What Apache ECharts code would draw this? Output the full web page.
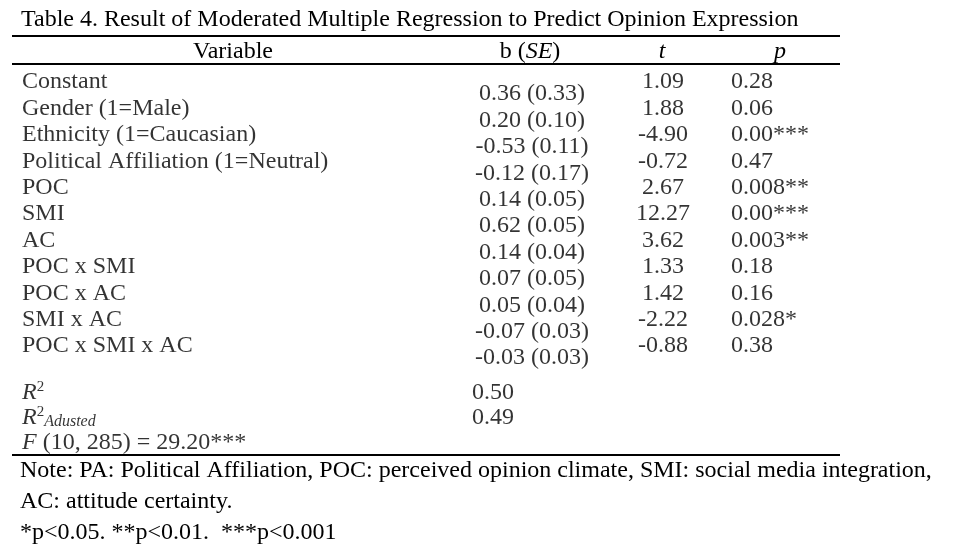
<!DOCTYPE html>
<html>
<head>
<meta charset="utf-8">
<script src="https://cdn.jsdelivr.net/npm/echarts@6/dist/echarts.min.js"></script>
<style>
html,body{margin:0;padding:0;background:#fff;}
#chart{width:960px;height:558px;}
</style>
</head>
<body>
<div id="chart"></div>
<script>
// ---- data ----
var titleText = 'Table 4. Result of Moderated Multiple Regression to Predict Opinion Expression';
var headers = ['Variable', 'b (SE)', 't', 'p'];
var variables = ['Constant', 'Gender (1=Male)', 'Ethnicity (1=Caucasian)', 'Political Affiliation (1=Neutral)',
  'POC', 'SMI', 'AC', 'POC x SMI', 'POC x AC', 'SMI x AC', 'POC x SMI x AC'];
var bValues = [0.36, 0.20, -0.53, -0.12, 0.14, 0.62, 0.14, 0.07, 0.05, -0.07, -0.03];
var seValues = [0.33, 0.10, 0.11, 0.17, 0.05, 0.05, 0.04, 0.05, 0.04, 0.03, 0.03];
var tValues = [1.09, 1.88, -4.90, -0.72, 2.67, 12.27, 3.62, 1.33, 1.42, -2.22, -0.88];
var pValues = ['0.28', '0.06', '0.00', '0.47', '0.008', '0.00', '0.003', '0.18', '0.16', '0.028', '0.38'];
var pStars = ['', '', '***', '', '**', '***', '**', '', '', '*', ''];
var summaryRows = ['R2', 'R2adj', 'F'];
var summaryValues = [0.50, 0.49];
var fStat = {df1: 10, df2: 285, value: 29.20, stars: '***'};
var noteLines = [
  'Note: PA: Political Affiliation, POC: perceived opinion climate, SMI: social media integration,',
  'AC: attitude certainty.',
  '*p<0.05. **p<0.01.  ***p<0.001'
];

// ---- chart ----
var FONT = '"Liberation Serif", "Times New Roman", serif';
var FS = 24;
var chart = echarts.init(document.getElementById('chart'), null, {renderer: 'canvas'});

var bodyTop = 69, bodyHeight = 290.4;
function grid(left, width, top, height) {
  return {left: left, width: width, top: top, height: height, containLabel: false};
}
function xAx(i) {
  return {gridIndex: i, type: 'value', min: 0, max: 1, show: false};
}
function yAx(i, cats) {
  return {gridIndex: i, type: 'category', data: cats, inverse: true, show: false, boundaryGap: true};
}
function textSeries(i, cats, formatter, align, extra) {
  var label = Object.assign({
    show: true, position: 'inside', color: '#000', fontFamily: FONT, fontSize: FS,
    align: align, verticalAlign: 'middle', formatter: formatter
  }, extra || {});
  return {
    type: 'scatter', xAxisIndex: i, yAxisIndex: i, symbolSize: 0, silent: true,
    data: cats.map(function (c) { return [0, c]; }),
    label: label
  };
}
var n2 = function (v) { return v.toFixed(2); };

var option = {
  backgroundColor: '#fff',
  animation: false,
  grid: [
    grid(22, 10, bodyTop, bodyHeight),    // variable names (left aligned)
    grid(532, 10, bodyTop, bodyHeight),   // b (SE) (centred)
    grid(663, 10, bodyTop, bodyHeight),   // t (centred)
    grid(731, 10, bodyTop, bodyHeight),   // p (left aligned)
    grid(22, 10, 380, 75),                // summary labels
    grid(472, 10, 380, 75)                // summary values
  ],
  xAxis: [xAx(0), xAx(1), xAx(2), xAx(3), xAx(4), xAx(5)],
  yAxis: [yAx(0, variables), yAx(1, variables), yAx(2, variables), yAx(3, variables),
          yAx(4, summaryRows), yAx(5, summaryRows)],
  series: [
    textSeries(0, variables, function (p) { return variables[p.dataIndex]; }, 'left'),
    textSeries(1, variables, function (p) {
      return n2(bValues[p.dataIndex]) + ' (' + n2(seValues[p.dataIndex]) + ')';
    }, 'center', {offset: [0, 12]}),
    textSeries(2, variables, function (p) { return n2(tValues[p.dataIndex]); }, 'center'),
    textSeries(3, variables, function (p) { return pValues[p.dataIndex] + pStars[p.dataIndex]; }, 'left'),
    textSeries(4, summaryRows, function (p) {
      if (p.dataIndex === 0) return '{i|R}{s|2}';
      if (p.dataIndex === 1) return '{i|R}{s|2}{sub|Adusted}';
      return '{i|F} (' + fStat.df1 + ', ' + fStat.df2 + ') = ' + fStat.value.toFixed(2) + fStat.stars;
    }, 'left', {
      rich: {
        i: {fontFamily: FONT, fontSize: FS, fontStyle: 'italic', color: '#000'},
        s: {fontFamily: FONT, fontSize: 15, color: '#000', verticalAlign: 'top', padding: [0, 0, 11, 0]},
        sub: {fontFamily: FONT, fontSize: 16, fontStyle: 'italic', color: '#000', padding: [9, 0, 0, 0]}
      }
    }),
    {
      type: 'scatter', xAxisIndex: 5, yAxisIndex: 5, symbolSize: 0, silent: true,
      data: summaryValues.map(function (v, i) { return [0, summaryRows[i]]; }),
      label: {show: true, position: 'inside', align: 'left', color: '#000', fontFamily: FONT, fontSize: FS,
        formatter: function (p) { return n2(summaryValues[p.dataIndex]); }}
    }
  ],
  graphic: [
    {type: 'text', x: 21, y: 20, style: {text: titleText, font: FS + 'px ' + FONT, fill: '#000', textVerticalAlign: 'middle'}},
    {type: 'line', shape: {x1: 12, y1: 36, x2: 840, y2: 36}, style: {stroke: '#000', lineWidth: 2}},
    {type: 'line', shape: {x1: 12, y1: 64, x2: 840, y2: 64}, style: {stroke: '#000', lineWidth: 2}},
    {type: 'line', shape: {x1: 12, y1: 455, x2: 840, y2: 455}, style: {stroke: '#000', lineWidth: 2}},
    {type: 'text', x: 233, y: 52, style: {text: headers[0], font: FS + 'px ' + FONT, fill: '#000', textAlign: 'center', textVerticalAlign: 'middle'}},
    {type: 'text', x: 530, y: 52, style: {
      text: '{n|b (}{i|SE}{n|)}', textAlign: 'center', textVerticalAlign: 'middle',
      rich: {n: {font: FS + 'px ' + FONT, fill: '#000'}, i: {font: 'italic ' + FS + 'px ' + FONT, fill: '#000'}}}},
    {type: 'text', x: 662, y: 52, style: {text: headers[2], font: 'italic ' + FS + 'px ' + FONT, fill: '#000', textAlign: 'center', textVerticalAlign: 'middle'}},
    {type: 'text', x: 780, y: 52, style: {text: headers[3], font: 'italic ' + FS + 'px ' + FONT, fill: '#000', textAlign: 'center', textVerticalAlign: 'middle'}},
    {type: 'text', x: 20, y: 471, style: {text: noteLines[0], font: FS + 'px ' + FONT, fill: '#000', textVerticalAlign: 'middle'}},
    {type: 'text', x: 20, y: 502, style: {text: noteLines[1], font: FS + 'px ' + FONT, fill: '#000', textVerticalAlign: 'middle'}},
    {type: 'text', x: 20, y: 533, style: {text: noteLines[2], font: FS + 'px ' + FONT, fill: '#000', textVerticalAlign: 'middle'}}
  ]
};
chart.setOption(option);
</script>
</body>
</html>
